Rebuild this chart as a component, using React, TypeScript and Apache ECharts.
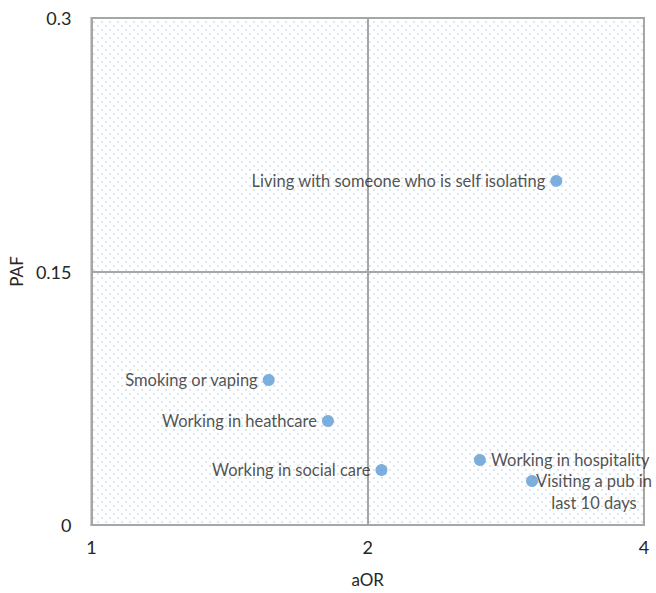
import React, { useEffect, useRef } from "react";
import * as echarts from "echarts";

const labels = [
  "Living with someone who is self isolating",
  "Smoking or vaping",
  "Working in heathcare",
  "Working in social care",
  "Working in hospitality",
  "Visiting a pub in\nlast 10 days",
];
const aOR = [3.21, 1.56, 1.81, 2.07, 2.65, 3.02];
const PAF = [0.2036, 0.0858, 0.0615, 0.0325, 0.0385, 0.026];
const labelSide = ["left", "left", "left", "left", "right", "right"];
const yTicks = [0, 0.15, 0.3];

const FONT = "Lato, 'Open Sans', sans-serif";

const patternSvg =
  "data:image/svg+xml;utf8," +
  encodeURIComponent(
    "<svg xmlns='http://www.w3.org/2000/svg' width='8' height='8'><rect width='8' height='8' fill='#ffffff'/><circle cx='2' cy='2' r='0.8' fill='#aac7e6'/><circle cx='6' cy='6' r='0.8' fill='#aac7e6'/></svg>"
  );

export default function App() {
  const ref = useRef<HTMLDivElement>(null);
  useEffect(() => {
    if (!ref.current) return;
    const chart = echarts.init(ref.current, null, { renderer: "svg" });
    const data = labels.map((name, i) => {
      const isPub = i === 5;
      return {
        name,
        value: [aOR[i], PAF[i]],
        label: isPub
          ? {
              show: true,
              position: "right",
              align: "center",
              verticalAlign: "top",
              offset: [51, -11],
              lineHeight: 22,
              formatter: name,
            }
          : {
              show: true,
              position: labelSide[i],
              distance: 5,
              formatter: name,
            },
      };
    });
    chart.setOption({
      animation: false,
      grid: {
        left: 90,
        right: 12,
        top: 18,
        bottom: 68,
        show: true,
        borderColor: "#a6a6a6",
        borderWidth: 2,
        backgroundColor: { image: patternSvg, repeat: "repeat" },
      },
      xAxis: {
        type: "log",
        logBase: 2,
        min: 1,
        max: 4,
        name: "aOR",
        nameLocation: "middle",
        nameGap: 46,
        nameTextStyle: { fontFamily: FONT, fontSize: 17, color: "#262626" },
        axisLine: { show: true, lineStyle: { color: "#a6a6a6", width: 2 } },
        axisTick: { show: false },
        axisLabel: { fontFamily: FONT, fontSize: 18, color: "#262626", margin: 13 },
        splitLine: { show: true, lineStyle: { color: "#a6a6a6", width: 2 } },
        minorSplitLine: { show: false },
      },
      yAxis: {
        type: "value",
        min: 0,
        max: 0.3,
        interval: 0.15,
        name: "PAF",
        nameLocation: "middle",
        nameGap: 66,
        nameRotate: 90,
        nameTextStyle: { fontFamily: FONT, fontSize: 17, color: "#262626" },
        axisLine: { show: true, lineStyle: { color: "#a6a6a6", width: 2 } },
        axisTick: { show: false },
        axisLabel: {
          fontFamily: FONT,
          fontSize: 18,
          color: "#262626",
          margin: 20,
          formatter: (v: number) => {
            const t = yTicks.find((x) => Math.abs(x - v) < 1e-9);
            return t === undefined ? "" : String(t);
          },
        },
        splitLine: { show: true, lineStyle: { color: "#a6a6a6", width: 2 } },
      },
      series: [
        {
          type: "scatter",
          symbolSize: 12,
          itemStyle: { color: "#5b9bd5" },
          label: {
            fontFamily: FONT,
            fontSize: 16.5,
            color: "#262626",
          },
          data,
        },
      ],
    });
    return () => chart.dispose();
  }, []);
  return <div ref={ref} style={{ width: 656, height: 593, position: "absolute", left: 0, top: 0 }} />;
}
